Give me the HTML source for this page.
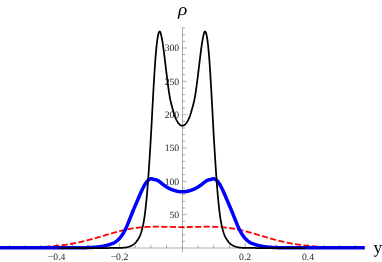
<!DOCTYPE html>
<html><head><meta charset="utf-8"><title>plot</title>
<style>
html,body{margin:0;padding:0;background:#fff;}
body{width:382px;height:262px;overflow:hidden;font-family:"Liberation Serif",serif;}
svg{display:block;will-change:transform;}
.t{font-family:"Liberation Serif",serif;fill:#1c1c1c;text-rendering:geometricPrecision;}
</style></head><body>
<svg width="382" height="262" viewBox="0 0 382 262">
<g class="t" font-size="9.7"><text x="56.62" y="259.9" text-anchor="middle">−0.4</text><text x="119.46" y="259.9" text-anchor="middle">−0.2</text><text x="245.14" y="259.9" text-anchor="middle">0.2</text><text x="307.98" y="259.9" text-anchor="middle">0.4</text><text x="179.2" y="217.97" text-anchor="end">50</text><text x="179.2" y="184.63" text-anchor="end">100</text><text x="179.2" y="151.30" text-anchor="end">150</text><text x="179.2" y="117.97" text-anchor="end">200</text><text x="179.2" y="84.63" text-anchor="end">250</text><text x="179.2" y="51.30" text-anchor="end">300</text></g>
<text class="t" transform="translate(178.0,15.4) scale(1.14,1)" font-style="italic" font-size="17" style="fill:#000">ρ</text>
<text class="t" x="373.6" y="252.85" font-size="17.2" style="fill:#000">y</text>
<path d="M0.00,247.62 L0.70,247.62 L1.41,247.62 L2.11,247.62 L2.82,247.62 L3.52,247.61 L4.22,247.61 L4.93,247.61 L5.63,247.60 L6.34,247.60 L7.04,247.60 L7.74,247.60 L8.45,247.59 L9.15,247.59 L9.86,247.58 L10.56,247.58 L11.26,247.58 L11.97,247.57 L12.67,247.57 L13.38,247.56 L14.08,247.56 L14.79,247.55 L15.49,247.54 L16.19,247.54 L16.90,247.53 L17.60,247.53 L18.31,247.52 L19.01,247.51 L19.71,247.50 L20.42,247.49 L21.12,247.48 L21.83,247.47 L22.53,247.46 L23.23,247.45 L23.94,247.44 L24.64,247.43 L25.35,247.42 L26.05,247.41 L26.75,247.39 L27.46,247.38 L28.16,247.37 L28.87,247.35 L29.57,247.33 L30.27,247.32 L30.98,247.30 L31.68,247.28 L32.39,247.26 L33.09,247.24 L33.79,247.22 L34.50,247.20 L35.20,247.18 L35.91,247.15 L36.61,247.13 L37.31,247.10 L38.02,247.08 L38.72,247.05 L39.43,247.02 L40.13,246.99 L40.84,246.96 L41.54,246.93 L42.24,246.89 L42.95,246.86 L43.65,246.82 L44.36,246.78 L45.06,246.74 L45.76,246.70 L46.47,246.66 L47.17,246.61 L47.88,246.57 L48.58,246.52 L49.28,246.47 L49.99,246.42 L50.69,246.37 L51.40,246.31 L52.10,246.25 L52.80,246.20 L53.51,246.14 L54.21,246.07 L54.92,246.01 L55.62,245.94 L56.32,245.87 L57.03,245.80 L57.73,245.73 L58.44,245.65 L59.14,245.58 L59.84,245.50 L60.55,245.41 L61.25,245.33 L61.96,245.24 L62.66,245.15 L63.36,245.06 L64.07,244.97 L64.77,244.87 L65.48,244.77 L66.18,244.67 L66.89,244.56 L67.59,244.46 L68.29,244.35 L69.00,244.23 L69.70,244.12 L70.41,244.00 L71.11,243.88 L71.81,243.76 L72.52,243.63 L73.22,243.50 L73.93,243.37 L74.63,243.24 L75.33,243.10 L76.04,242.96 L76.74,242.82 L77.45,242.67 L78.15,242.52 L78.85,242.37 L79.56,242.22 L80.26,242.06 L80.97,241.90 L81.67,241.74 L82.37,241.58 L83.08,241.41 L83.78,241.24 L84.49,241.07 L85.19,240.90 L85.89,240.72 L86.60,240.54 L87.30,240.36 L88.01,240.18 L88.71,239.99 L89.41,239.81 L90.12,239.62 L90.82,239.43 L91.53,239.23 L92.23,239.04 L92.94,238.84 L93.64,238.64 L94.34,238.44 L95.05,238.24 L95.75,238.04 L96.46,237.84 L97.16,237.63 L97.86,237.42 L98.57,237.22 L99.27,237.01 L99.98,236.80 L100.68,236.59 L101.38,236.38 L102.09,236.17 L102.79,235.96 L103.50,235.75 L104.20,235.54 L104.90,235.33 L105.61,235.12 L106.31,234.91 L107.02,234.70 L107.72,234.49 L108.42,234.28 L109.13,234.08 L109.83,233.87 L110.54,233.67 L111.24,233.46 L111.94,233.26 L112.65,233.06 L113.35,232.86 L114.06,232.66 L114.76,232.46 L115.46,232.27 L116.17,232.08 L116.87,231.89 L117.58,231.70 L118.28,231.52 L118.99,231.33 L119.69,231.15 L120.39,230.98 L121.10,230.80 L121.80,230.63 L122.51,230.46 L123.21,230.30 L123.91,230.14 L124.62,229.98 L125.32,229.82 L126.03,229.67 L126.73,229.52 L127.43,229.38 L128.14,229.24 L128.84,229.10 L129.55,228.97 L130.25,228.84 L130.95,228.71 L131.66,228.59 L132.36,228.47 L133.07,228.36 L133.77,228.25 L134.47,228.14 L135.18,228.04 L135.88,227.94 L136.59,227.85 L137.29,227.76 L137.99,227.68 L138.70,227.59 L139.40,227.52 L140.11,227.44 L140.81,227.37 L141.51,227.31 L142.22,227.25 L142.92,227.19 L143.63,227.13 L144.33,227.08 L145.04,227.03 L145.74,226.99 L146.44,226.95 L147.15,226.91 L147.85,226.88 L148.56,226.85 L149.26,226.82 L149.96,226.80 L150.67,226.78 L151.37,226.76 L152.08,226.74 L152.78,226.73 L153.48,226.72 L154.19,226.71 L154.89,226.71 L155.60,226.70 L156.30,226.70 L157.00,226.70 L157.71,226.70 L158.41,226.71 L159.12,226.71 L159.82,226.72 L160.52,226.73 L161.23,226.74 L161.93,226.75 L162.64,226.76 L163.34,226.77 L164.04,226.79 L164.75,226.80 L165.45,226.81 L166.16,226.83 L166.86,226.84 L167.56,226.86 L168.27,226.87 L168.97,226.89 L169.68,226.90 L170.38,226.92 L171.09,226.93 L171.79,226.95 L172.49,226.96 L173.20,226.97 L173.90,226.98 L174.61,227.00 L175.31,227.01 L176.01,227.02 L176.72,227.03 L177.42,227.03 L178.13,227.04 L178.83,227.05 L179.53,227.05 L180.24,227.06 L180.94,227.06 L181.65,227.06 L182.35,227.06 L183.05,227.06 L183.76,227.06 L184.46,227.06 L185.17,227.05 L185.87,227.05 L186.57,227.04 L187.28,227.03 L187.98,227.03 L188.69,227.02 L189.39,227.01 L190.09,227.00 L190.80,226.98 L191.50,226.97 L192.21,226.96 L192.91,226.95 L193.61,226.93 L194.32,226.92 L195.02,226.90 L195.73,226.89 L196.43,226.87 L197.14,226.86 L197.84,226.84 L198.54,226.83 L199.25,226.81 L199.95,226.80 L200.66,226.79 L201.36,226.77 L202.06,226.76 L202.77,226.75 L203.47,226.74 L204.18,226.73 L204.88,226.72 L205.58,226.71 L206.29,226.71 L206.99,226.70 L207.70,226.70 L208.40,226.70 L209.10,226.70 L209.81,226.71 L210.51,226.71 L211.22,226.72 L211.92,226.73 L212.62,226.74 L213.33,226.76 L214.03,226.78 L214.74,226.80 L215.44,226.82 L216.14,226.85 L216.85,226.88 L217.55,226.91 L218.26,226.95 L218.96,226.99 L219.66,227.03 L220.37,227.08 L221.07,227.13 L221.78,227.19 L222.48,227.25 L223.19,227.31 L223.89,227.37 L224.59,227.44 L225.30,227.52 L226.00,227.59 L226.71,227.68 L227.41,227.76 L228.11,227.85 L228.82,227.94 L229.52,228.04 L230.23,228.14 L230.93,228.25 L231.63,228.36 L232.34,228.47 L233.04,228.59 L233.75,228.71 L234.45,228.84 L235.15,228.97 L235.86,229.10 L236.56,229.24 L237.27,229.38 L237.97,229.52 L238.67,229.67 L239.38,229.82 L240.08,229.98 L240.79,230.14 L241.49,230.30 L242.19,230.46 L242.90,230.63 L243.60,230.80 L244.31,230.98 L245.01,231.15 L245.71,231.33 L246.42,231.52 L247.12,231.70 L247.83,231.89 L248.53,232.08 L249.24,232.27 L249.94,232.46 L250.64,232.66 L251.35,232.86 L252.05,233.06 L252.76,233.26 L253.46,233.46 L254.16,233.67 L254.87,233.87 L255.57,234.08 L256.28,234.28 L256.98,234.49 L257.68,234.70 L258.39,234.91 L259.09,235.12 L259.80,235.33 L260.50,235.54 L261.20,235.75 L261.91,235.96 L262.61,236.17 L263.32,236.38 L264.02,236.59 L264.72,236.80 L265.43,237.01 L266.13,237.22 L266.84,237.42 L267.54,237.63 L268.24,237.84 L268.95,238.04 L269.65,238.24 L270.36,238.44 L271.06,238.64 L271.76,238.84 L272.47,239.04 L273.17,239.23 L273.88,239.43 L274.58,239.62 L275.29,239.81 L275.99,239.99 L276.69,240.18 L277.40,240.36 L278.10,240.54 L278.81,240.72 L279.51,240.90 L280.21,241.07 L280.92,241.24 L281.62,241.41 L282.33,241.58 L283.03,241.74 L283.73,241.90 L284.44,242.06 L285.14,242.22 L285.85,242.37 L286.55,242.52 L287.25,242.67 L287.96,242.82 L288.66,242.96 L289.37,243.10 L290.07,243.24 L290.77,243.37 L291.48,243.50 L292.18,243.63 L292.89,243.76 L293.59,243.88 L294.29,244.00 L295.00,244.12 L295.70,244.23 L296.41,244.35 L297.11,244.46 L297.81,244.56 L298.52,244.67 L299.22,244.77 L299.93,244.87 L300.63,244.97 L301.34,245.06 L302.04,245.15 L302.74,245.24 L303.45,245.33 L304.15,245.41 L304.86,245.50 L305.56,245.58 L306.26,245.65 L306.97,245.73 L307.67,245.80 L308.38,245.87 L309.08,245.94 L309.78,246.01 L310.49,246.07 L311.19,246.14 L311.90,246.20 L312.60,246.25 L313.30,246.31 L314.01,246.37 L314.71,246.42 L315.42,246.47 L316.12,246.52 L316.82,246.57 L317.53,246.61 L318.23,246.66 L318.94,246.70 L319.64,246.74 L320.34,246.78 L321.05,246.82 L321.75,246.86 L322.46,246.89 L323.16,246.93 L323.86,246.96 L324.57,246.99 L325.27,247.02 L325.98,247.05 L326.68,247.08 L327.39,247.10 L328.09,247.13 L328.79,247.15 L329.50,247.18 L330.20,247.20 L330.91,247.22 L331.61,247.24 L332.31,247.26 L333.02,247.28 L333.72,247.30 L334.43,247.32 L335.13,247.33 L335.83,247.35 L336.54,247.37 L337.24,247.38 L337.95,247.39 L338.65,247.41 L339.35,247.42 L340.06,247.43 L340.76,247.44 L341.47,247.45 L342.17,247.46 L342.87,247.47 L343.58,247.48 L344.28,247.49 L344.99,247.50 L345.69,247.51 L346.39,247.52 L347.10,247.53 L347.80,247.53 L348.51,247.54 L349.21,247.54 L349.91,247.55 L350.62,247.56 L351.32,247.56 L352.03,247.57 L352.73,247.57 L353.44,247.58 L354.14,247.58 L354.84,247.58 L355.55,247.59 L356.25,247.59 L356.96,247.60 L357.66,247.60 L358.36,247.60 L359.07,247.60 L359.77,247.61 L360.48,247.61 L361.18,247.61 L361.88,247.62 L362.59,247.62 L363.29,247.62 L364.00,247.62 L364.70,247.62" fill="none" stroke="#ff0000" stroke-width="1.8" stroke-dasharray="6.05 2.435" stroke-dashoffset="6.155" stroke-linejoin="round"/>
<path d="M0.00,247.80 L0.51,247.80 L1.01,247.80 L1.52,247.80 L2.03,247.80 L2.53,247.80 L3.04,247.80 L3.55,247.80 L4.05,247.80 L4.56,247.80 L5.07,247.80 L5.57,247.80 L6.08,247.80 L6.59,247.80 L7.09,247.80 L7.60,247.80 L8.11,247.80 L8.61,247.80 L9.12,247.80 L9.63,247.80 L10.13,247.80 L10.64,247.80 L11.15,247.80 L11.65,247.80 L12.16,247.80 L12.67,247.80 L13.17,247.80 L13.68,247.80 L14.19,247.80 L14.69,247.80 L15.20,247.80 L15.71,247.80 L16.21,247.80 L16.72,247.80 L17.23,247.80 L17.73,247.80 L18.24,247.80 L18.75,247.80 L19.25,247.80 L19.76,247.80 L20.27,247.80 L20.77,247.80 L21.28,247.80 L21.79,247.80 L22.29,247.80 L22.80,247.80 L23.31,247.80 L23.81,247.80 L24.32,247.80 L24.83,247.80 L25.33,247.80 L25.84,247.80 L26.35,247.80 L26.85,247.80 L27.36,247.80 L27.87,247.80 L28.37,247.80 L28.88,247.80 L29.39,247.80 L29.89,247.80 L30.40,247.80 L30.91,247.80 L31.41,247.80 L31.92,247.80 L32.43,247.80 L32.93,247.80 L33.44,247.80 L33.95,247.80 L34.45,247.80 L34.96,247.80 L35.47,247.80 L35.97,247.80 L36.48,247.80 L36.99,247.80 L37.49,247.80 L38.00,247.80 L38.51,247.80 L39.02,247.80 L39.52,247.80 L40.03,247.80 L40.54,247.80 L41.04,247.80 L41.55,247.80 L42.06,247.80 L42.56,247.80 L43.07,247.80 L43.58,247.80 L44.08,247.80 L44.59,247.80 L45.10,247.80 L45.60,247.80 L46.11,247.80 L46.62,247.80 L47.12,247.80 L47.63,247.80 L48.14,247.80 L48.64,247.80 L49.15,247.80 L49.66,247.80 L50.16,247.80 L50.67,247.80 L51.18,247.80 L51.68,247.80 L52.19,247.80 L52.70,247.80 L53.20,247.80 L53.71,247.80 L54.22,247.80 L54.72,247.80 L55.23,247.80 L55.74,247.80 L56.24,247.80 L56.75,247.80 L57.26,247.80 L57.76,247.80 L58.27,247.80 L58.78,247.80 L59.28,247.80 L59.79,247.80 L60.30,247.80 L60.80,247.80 L61.31,247.80 L61.82,247.80 L62.32,247.80 L62.83,247.80 L63.34,247.80 L63.84,247.80 L64.35,247.80 L64.86,247.80 L65.36,247.80 L65.87,247.80 L66.38,247.79 L66.88,247.79 L67.39,247.79 L67.90,247.79 L68.40,247.79 L68.91,247.79 L69.42,247.79 L69.92,247.79 L70.43,247.79 L70.94,247.79 L71.44,247.79 L71.95,247.79 L72.46,247.78 L72.96,247.78 L73.47,247.78 L73.98,247.78 L74.48,247.78 L74.99,247.78 L75.50,247.77 L76.00,247.77 L76.51,247.77 L77.02,247.77 L77.52,247.76 L78.03,247.76 L78.54,247.76 L79.04,247.75 L79.55,247.75 L80.06,247.74 L80.56,247.74 L81.07,247.73 L81.58,247.73 L82.08,247.72 L82.59,247.71 L83.10,247.71 L83.60,247.70 L84.11,247.69 L84.62,247.68 L85.12,247.67 L85.63,247.66 L86.14,247.65 L86.64,247.64 L87.15,247.62 L87.66,247.61 L88.16,247.59 L88.67,247.58 L89.18,247.56 L89.68,247.54 L90.19,247.52 L90.70,247.50 L91.20,247.48 L91.71,247.45 L92.22,247.42 L92.72,247.39 L93.23,247.36 L93.74,247.33 L94.24,247.30 L94.75,247.26 L95.26,247.22 L95.76,247.18 L96.27,247.13 L96.78,247.08 L97.28,247.03 L97.79,246.98 L98.30,246.92 L98.80,246.86 L99.31,246.79 L99.82,246.73 L100.32,246.65 L100.83,246.58 L101.34,246.50 L101.84,246.42 L102.35,246.33 L102.86,246.24 L103.36,246.14 L103.87,246.04 L104.38,245.94 L104.88,245.83 L105.39,245.71 L105.90,245.59 L106.40,245.46 L106.91,245.33 L107.42,245.19 L107.92,245.04 L108.43,244.89 L108.94,244.73 L109.44,244.56 L109.95,244.38 L110.46,244.21 L110.96,244.04 L111.47,243.87 L111.98,243.69 L112.48,243.50 L112.99,243.30 L113.50,243.08 L114.01,242.84 L114.51,242.58 L115.02,242.28 L115.53,241.94 L116.03,241.57 L116.54,241.18 L117.05,240.77 L117.55,240.33 L118.06,239.87 L118.57,239.38 L119.07,238.86 L119.58,238.31 L120.09,237.72 L120.59,237.11 L121.10,236.45 L121.61,235.76 L122.11,235.02 L122.62,234.26 L123.13,233.46 L123.63,232.62 L124.14,231.74 L124.65,230.83 L125.15,229.89 L125.66,228.91 L126.17,227.83 L126.67,226.66 L127.18,225.42 L127.69,224.16 L128.19,222.90 L128.70,221.66 L129.21,220.42 L129.71,219.15 L130.22,217.86 L130.73,216.58 L131.23,215.29 L131.74,214.00 L132.25,212.73 L132.75,211.48 L133.26,210.26 L133.77,209.07 L134.27,207.90 L134.78,206.73 L135.29,205.57 L135.79,204.40 L136.30,203.21 L136.81,202.01 L137.31,200.83 L137.82,199.65 L138.33,198.47 L138.83,197.29 L139.34,196.10 L139.85,194.90 L140.35,193.72 L140.86,192.57 L141.37,191.43 L141.87,190.33 L142.38,189.25 L142.89,188.21 L143.39,187.21 L143.90,186.25 L144.41,185.34 L144.91,184.47 L145.42,183.66 L145.93,182.91 L146.43,182.21 L146.94,181.58 L147.45,181.00 L147.95,180.49 L148.46,180.05 L148.97,179.67 L149.47,179.36 L149.98,179.11 L150.49,178.94 L150.99,178.83 L151.50,178.80 L151.89,178.82 L152.28,178.88 L152.67,178.98 L153.06,179.14 L153.45,179.29 L153.84,179.42 L154.23,179.51 L154.62,179.59 L155.01,179.67 L155.41,179.74 L155.80,179.81 L156.19,179.91 L156.58,180.03 L156.97,180.17 L157.36,180.35 L157.75,180.54 L158.14,180.76 L158.53,181.01 L158.92,181.26 L159.31,181.54 L159.70,181.82 L160.09,182.12 L160.48,182.42 L160.87,182.73 L161.26,183.05 L161.65,183.36 L162.04,183.68 L162.43,183.99 L162.82,184.30 L163.22,184.60 L163.61,184.90 L164.00,185.20 L164.39,185.49 L164.78,185.78 L165.17,186.06 L165.56,186.33 L165.95,186.59 L166.34,186.85 L166.73,187.10 L167.12,187.33 L167.51,187.56 L167.90,187.78 L168.29,187.99 L168.68,188.20 L169.07,188.39 L169.46,188.58 L169.85,188.76 L170.24,188.94 L170.63,189.11 L171.03,189.27 L171.42,189.43 L171.81,189.58 L172.20,189.73 L172.59,189.88 L172.98,190.02 L173.37,190.16 L173.76,190.29 L174.15,190.42 L174.54,190.54 L174.93,190.66 L175.32,190.77 L175.71,190.88 L176.10,190.98 L176.49,191.08 L176.88,191.17 L177.27,191.26 L177.66,191.34 L178.05,191.42 L178.44,191.49 L178.84,191.55 L179.23,191.61 L179.62,191.66 L180.01,191.71 L180.40,191.74 L180.79,191.78 L181.18,191.80 L181.57,191.82 L181.96,191.83 L182.35,191.83 L182.74,191.83 L183.13,191.82 L183.52,191.80 L183.91,191.78 L184.30,191.74 L184.69,191.71 L185.08,191.66 L185.47,191.61 L185.86,191.55 L186.26,191.49 L186.65,191.42 L187.04,191.34 L187.43,191.26 L187.82,191.17 L188.21,191.08 L188.60,190.98 L188.99,190.88 L189.38,190.77 L189.77,190.66 L190.16,190.54 L190.55,190.42 L190.94,190.29 L191.33,190.16 L191.72,190.02 L192.11,189.88 L192.50,189.73 L192.89,189.58 L193.28,189.43 L193.67,189.27 L194.07,189.11 L194.46,188.94 L194.85,188.76 L195.24,188.58 L195.63,188.39 L196.02,188.20 L196.41,187.99 L196.80,187.78 L197.19,187.56 L197.58,187.33 L197.97,187.10 L198.36,186.85 L198.75,186.59 L199.14,186.33 L199.53,186.06 L199.92,185.78 L200.31,185.49 L200.70,185.20 L201.09,184.90 L201.48,184.60 L201.88,184.30 L202.27,183.99 L202.66,183.68 L203.05,183.36 L203.44,183.05 L203.83,182.73 L204.22,182.42 L204.61,182.12 L205.00,181.82 L205.39,181.54 L205.78,181.26 L206.17,181.01 L206.56,180.76 L206.95,180.54 L207.34,180.35 L207.73,180.17 L208.12,180.03 L208.51,179.91 L208.90,179.81 L209.29,179.74 L209.69,179.67 L210.08,179.59 L210.47,179.51 L210.86,179.42 L211.25,179.29 L211.64,179.14 L212.03,178.98 L212.42,178.88 L212.81,178.82 L213.20,178.80 L213.71,178.83 L214.21,178.94 L214.72,179.11 L215.23,179.36 L215.73,179.67 L216.24,180.05 L216.75,180.49 L217.25,181.00 L217.76,181.58 L218.27,182.21 L218.77,182.91 L219.28,183.66 L219.79,184.47 L220.29,185.34 L220.80,186.25 L221.31,187.21 L221.81,188.21 L222.32,189.25 L222.83,190.33 L223.33,191.43 L223.84,192.57 L224.35,193.72 L224.85,194.90 L225.36,196.10 L225.87,197.29 L226.37,198.47 L226.88,199.65 L227.39,200.83 L227.89,202.01 L228.40,203.21 L228.91,204.40 L229.41,205.57 L229.92,206.73 L230.43,207.90 L230.93,209.07 L231.44,210.26 L231.95,211.48 L232.45,212.73 L232.96,214.00 L233.47,215.29 L233.97,216.58 L234.48,217.86 L234.99,219.15 L235.49,220.42 L236.00,221.66 L236.51,222.90 L237.01,224.16 L237.52,225.42 L238.03,226.66 L238.53,227.83 L239.04,228.91 L239.55,229.89 L240.05,230.83 L240.56,231.74 L241.07,232.62 L241.57,233.46 L242.08,234.26 L242.59,235.02 L243.09,235.76 L243.60,236.45 L244.11,237.11 L244.61,237.72 L245.12,238.31 L245.63,238.86 L246.13,239.38 L246.64,239.87 L247.15,240.33 L247.65,240.77 L248.16,241.18 L248.67,241.57 L249.17,241.94 L249.68,242.28 L250.19,242.58 L250.69,242.84 L251.20,243.08 L251.71,243.30 L252.22,243.50 L252.72,243.69 L253.23,243.87 L253.74,244.04 L254.24,244.21 L254.75,244.38 L255.26,244.56 L255.76,244.73 L256.27,244.89 L256.78,245.04 L257.28,245.19 L257.79,245.33 L258.30,245.46 L258.80,245.59 L259.31,245.71 L259.82,245.83 L260.32,245.94 L260.83,246.04 L261.34,246.14 L261.84,246.24 L262.35,246.33 L262.86,246.42 L263.36,246.50 L263.87,246.58 L264.38,246.65 L264.88,246.73 L265.39,246.79 L265.90,246.86 L266.40,246.92 L266.91,246.98 L267.42,247.03 L267.92,247.08 L268.43,247.13 L268.94,247.18 L269.44,247.22 L269.95,247.26 L270.46,247.30 L270.96,247.33 L271.47,247.36 L271.98,247.39 L272.48,247.42 L272.99,247.45 L273.50,247.48 L274.00,247.50 L274.51,247.52 L275.02,247.54 L275.52,247.56 L276.03,247.58 L276.54,247.59 L277.04,247.61 L277.55,247.62 L278.06,247.64 L278.56,247.65 L279.07,247.66 L279.58,247.67 L280.08,247.68 L280.59,247.69 L281.10,247.70 L281.60,247.71 L282.11,247.71 L282.62,247.72 L283.12,247.73 L283.63,247.73 L284.14,247.74 L284.64,247.74 L285.15,247.75 L285.66,247.75 L286.16,247.76 L286.67,247.76 L287.18,247.76 L287.68,247.77 L288.19,247.77 L288.70,247.77 L289.20,247.77 L289.71,247.78 L290.22,247.78 L290.72,247.78 L291.23,247.78 L291.74,247.78 L292.24,247.78 L292.75,247.79 L293.26,247.79 L293.76,247.79 L294.27,247.79 L294.78,247.79 L295.28,247.79 L295.79,247.79 L296.30,247.79 L296.80,247.79 L297.31,247.79 L297.82,247.79 L298.32,247.79 L298.83,247.80 L299.34,247.80 L299.84,247.80 L300.35,247.80 L300.86,247.80 L301.36,247.80 L301.87,247.80 L302.38,247.80 L302.88,247.80 L303.39,247.80 L303.90,247.80 L304.40,247.80 L304.91,247.80 L305.42,247.80 L305.92,247.80 L306.43,247.80 L306.94,247.80 L307.44,247.80 L307.95,247.80 L308.46,247.80 L308.96,247.80 L309.47,247.80 L309.98,247.80 L310.48,247.80 L310.99,247.80 L311.50,247.80 L312.00,247.80 L312.51,247.80 L313.02,247.80 L313.52,247.80 L314.03,247.80 L314.54,247.80 L315.04,247.80 L315.55,247.80 L316.06,247.80 L316.56,247.80 L317.07,247.80 L317.58,247.80 L318.08,247.80 L318.59,247.80 L319.10,247.80 L319.60,247.80 L320.11,247.80 L320.62,247.80 L321.12,247.80 L321.63,247.80 L322.14,247.80 L322.64,247.80 L323.15,247.80 L323.66,247.80 L324.16,247.80 L324.67,247.80 L325.18,247.80 L325.68,247.80 L326.19,247.80 L326.70,247.80 L327.21,247.80 L327.71,247.80 L328.22,247.80 L328.73,247.80 L329.23,247.80 L329.74,247.80 L330.25,247.80 L330.75,247.80 L331.26,247.80 L331.77,247.80 L332.27,247.80 L332.78,247.80 L333.29,247.80 L333.79,247.80 L334.30,247.80 L334.81,247.80 L335.31,247.80 L335.82,247.80 L336.33,247.80 L336.83,247.80 L337.34,247.80 L337.85,247.80 L338.35,247.80 L338.86,247.80 L339.37,247.80 L339.87,247.80 L340.38,247.80 L340.89,247.80 L341.39,247.80 L341.90,247.80 L342.41,247.80 L342.91,247.80 L343.42,247.80 L343.93,247.80 L344.43,247.80 L344.94,247.80 L345.45,247.80 L345.95,247.80 L346.46,247.80 L346.97,247.80 L347.47,247.80 L347.98,247.80 L348.49,247.80 L348.99,247.80 L349.50,247.80 L350.01,247.80 L350.51,247.80 L351.02,247.80 L351.53,247.80 L352.03,247.80 L352.54,247.80 L353.05,247.80 L353.55,247.80 L354.06,247.80 L354.57,247.80 L355.07,247.80 L355.58,247.80 L356.09,247.80 L356.59,247.80 L357.10,247.80 L357.61,247.80 L358.11,247.80 L358.62,247.80 L359.13,247.80 L359.63,247.80 L360.14,247.80 L360.65,247.80 L361.15,247.80 L361.66,247.80 L362.17,247.80 L362.67,247.80 L363.18,247.80 L363.69,247.80 L364.19,247.80 L364.70,247.80" fill="none" stroke="#0000ff" stroke-width="3.5" stroke-linejoin="round"/>
<path d="M59.06,248.00 L59.44,248.00 L59.82,248.00 L60.20,248.00 L60.58,248.00 L60.96,248.00 L61.35,248.00 L61.73,248.00 L62.11,248.00 L62.49,248.00 L62.87,248.00 L63.25,248.00 L63.63,248.00 L64.01,248.00 L64.39,248.00 L64.77,248.00 L65.16,248.00 L65.54,248.00 L65.92,248.00 L66.30,248.00 L66.68,248.00 L67.06,248.00 L67.44,248.00 L67.82,248.00 L68.20,248.00 L68.58,248.00 L68.97,248.00 L69.35,248.00 L69.73,248.00 L70.11,248.00 L70.49,248.00 L70.87,248.00 L71.25,248.00 L71.63,248.00 L72.01,248.00 L72.39,248.00 L72.78,248.00 L73.16,248.00 L73.54,248.00 L73.92,248.00 L74.30,248.00 L74.68,248.00 L75.06,248.00 L75.44,248.00 L75.82,248.00 L76.21,248.00 L76.59,248.00 L76.97,248.00 L77.35,248.00 L77.73,248.00 L78.11,248.00 L78.49,248.00 L78.87,248.00 L79.25,248.00 L79.63,248.00 L80.02,248.00 L80.40,248.00 L80.78,248.00 L81.16,248.00 L81.54,248.00 L81.92,248.00 L82.30,248.00 L82.68,248.00 L83.06,248.00 L83.44,248.00 L83.83,248.00 L84.21,248.00 L84.59,248.00 L84.97,248.00 L85.35,248.00 L85.73,248.00 L86.11,248.00 L86.49,248.00 L86.87,248.00 L87.26,248.00 L87.64,248.00 L88.02,248.00 L88.40,248.00 L88.78,248.00 L89.16,248.00 L89.54,248.00 L89.92,248.00 L90.30,248.00 L90.68,248.00 L91.07,248.00 L91.45,248.00 L91.83,248.00 L92.21,248.00 L92.59,248.00 L92.97,248.00 L93.35,248.00 L93.73,248.00 L94.11,248.00 L94.49,248.00 L94.88,248.00 L95.26,248.00 L95.64,248.00 L96.02,248.00 L96.40,248.00 L96.78,248.00 L97.16,248.00 L97.54,248.00 L97.92,248.00 L98.30,248.00 L98.69,248.00 L99.07,248.00 L99.45,248.00 L99.83,248.00 L100.21,248.00 L100.59,248.00 L100.97,248.00 L101.35,248.00 L101.73,248.00 L102.12,248.00 L102.50,248.00 L102.88,248.00 L103.26,248.00 L103.64,248.00 L104.02,248.00 L104.40,248.00 L104.78,248.00 L105.16,248.00 L105.54,248.00 L105.93,248.00 L106.31,248.00 L106.69,248.00 L107.07,248.00 L107.45,248.00 L107.83,248.00 L108.21,248.00 L108.59,248.00 L108.97,248.00 L109.35,247.99 L109.74,247.99 L110.12,247.99 L110.50,247.99 L110.88,247.99 L111.26,247.99 L111.64,247.99 L112.02,247.99 L112.40,247.99 L112.78,247.98 L113.16,247.98 L113.55,247.98 L113.93,247.98 L114.31,247.98 L114.69,247.97 L115.07,247.97 L115.45,247.97 L115.83,247.96 L116.21,247.96 L116.59,247.95 L116.98,247.95 L117.36,247.94 L117.74,247.94 L118.12,247.93 L118.50,247.92 L118.88,247.91 L119.26,247.90 L119.64,247.89 L120.02,247.88 L120.40,247.87 L120.79,247.86 L121.17,247.84 L121.55,247.82 L121.93,247.81 L122.31,247.78 L122.69,247.76 L123.07,247.74 L123.45,247.71 L123.83,247.68 L124.21,247.64 L124.60,247.60 L124.98,247.56 L125.36,247.51 L125.74,247.46 L126.12,247.40 L126.50,247.34 L126.88,247.26 L127.26,247.18 L127.64,247.09 L128.02,247.00 L128.41,246.89 L128.79,246.77 L129.17,246.65 L129.55,246.51 L129.93,246.37 L130.31,246.21 L130.69,246.05 L131.07,245.88 L131.45,245.70 L131.84,245.50 L132.22,245.29 L132.60,245.06 L132.98,244.82 L133.36,244.56 L133.74,244.28 L134.12,243.97 L134.50,243.64 L134.88,243.29 L135.26,242.92 L135.65,242.52 L136.03,242.09 L136.41,241.63 L136.79,241.14 L137.17,240.62 L137.55,240.06 L137.93,239.48 L138.31,238.87 L138.69,238.23 L139.07,237.54 L139.46,236.79 L139.84,235.95 L140.22,235.05 L140.60,234.07 L140.98,233.01 L141.36,231.84 L141.74,230.56 L142.12,229.14 L142.50,227.60 L142.88,225.95 L143.27,224.16 L143.65,222.20 L144.03,220.01 L144.41,217.56 L144.79,214.81 L145.17,211.83 L145.55,208.62 L145.93,205.17 L146.31,201.47 L146.70,197.49 L147.08,193.21 L147.46,188.61 L147.84,183.71 L148.22,178.56 L148.60,173.18 L148.98,167.59 L149.36,161.81 L149.74,155.84 L150.12,149.71 L150.51,143.43 L150.89,136.98 L151.27,130.19 L151.65,123.17 L152.03,116.01 L152.41,108.81 L152.79,101.69 L153.17,94.73 L153.55,88.00 L153.93,81.50 L154.32,75.18 L154.70,69.15 L155.08,63.51 L155.46,58.30 L155.84,53.59 L156.22,49.36 L156.60,45.63 L156.98,42.35 L157.36,39.49 L157.74,37.06 L158.13,35.06 L158.51,33.50 L158.89,32.39 L159.27,31.72 L159.65,31.50 L159.81,31.54 L159.98,31.67 L160.14,31.87 L160.30,32.15 L160.47,32.51 L160.63,32.95 L160.79,33.49 L160.96,34.12 L161.12,34.83 L161.28,35.60 L161.45,36.40 L161.61,37.20 L161.77,38.01 L161.94,38.85 L162.10,39.72 L162.26,40.64 L162.43,41.60 L162.59,42.60 L162.75,43.65 L162.92,44.73 L163.08,45.85 L163.24,47.00 L163.41,48.18 L163.57,49.39 L163.73,50.63 L163.90,51.88 L164.06,53.16 L164.22,54.46 L164.39,55.78 L164.55,57.11 L164.71,58.45 L164.88,59.80 L165.04,61.16 L165.20,62.52 L165.37,63.89 L165.53,65.26 L165.69,66.63 L165.86,68.00 L166.02,69.37 L166.18,70.73 L166.35,72.09 L166.51,73.43 L166.67,74.77 L166.84,76.09 L167.00,77.40 L167.16,78.70 L167.33,79.98 L167.49,81.25 L167.65,82.49 L167.82,83.72 L167.98,84.94 L168.14,86.14 L168.31,87.32 L168.47,88.49 L168.63,89.65 L168.80,90.78 L168.96,91.90 L169.12,92.99 L169.29,94.04 L169.45,95.07 L169.61,96.05 L169.78,96.99 L169.94,97.89 L170.10,98.75 L170.27,99.57 L170.43,100.35 L170.59,101.10 L170.76,101.82 L170.92,102.51 L171.08,103.18 L171.24,103.83 L171.41,104.47 L171.57,105.09 L171.73,105.69 L171.90,106.29 L172.06,106.89 L172.22,107.47 L172.39,108.06 L172.55,108.63 L172.71,109.21 L172.88,109.78 L173.04,110.35 L173.20,110.92 L173.37,111.48 L173.53,112.04 L173.69,112.60 L173.86,113.14 L174.02,113.68 L174.18,114.21 L174.35,114.72 L174.51,115.22 L174.67,115.71 L174.84,116.17 L175.00,116.62 L175.16,117.05 L175.33,117.46 L175.49,117.85 L175.65,118.23 L175.82,118.60 L175.98,118.95 L176.14,119.29 L176.31,119.61 L176.47,119.93 L176.63,120.24 L176.80,120.53 L176.96,120.82 L177.12,121.10 L177.29,121.38 L177.45,121.65 L177.61,121.91 L177.78,122.17 L177.94,122.42 L178.10,122.66 L178.27,122.90 L178.43,123.12 L178.59,123.34 L178.76,123.55 L178.92,123.75 L179.08,123.94 L179.25,124.12 L179.41,124.29 L179.57,124.45 L179.74,124.59 L179.90,124.73 L180.06,124.86 L180.23,124.98 L180.39,125.09 L180.55,125.19 L180.72,125.28 L180.88,125.36 L181.04,125.43 L181.21,125.50 L181.37,125.55 L181.53,125.60 L181.70,125.63 L181.86,125.66 L182.02,125.68 L182.19,125.70 L182.35,125.70 L182.51,125.70 L182.68,125.68 L182.84,125.66 L183.00,125.63 L183.17,125.60 L183.33,125.55 L183.49,125.50 L183.66,125.43 L183.82,125.36 L183.98,125.28 L184.15,125.19 L184.31,125.09 L184.47,124.98 L184.64,124.86 L184.80,124.73 L184.96,124.59 L185.13,124.45 L185.29,124.29 L185.45,124.12 L185.62,123.94 L185.78,123.75 L185.94,123.55 L186.11,123.34 L186.27,123.12 L186.43,122.90 L186.60,122.66 L186.76,122.42 L186.92,122.17 L187.09,121.91 L187.25,121.65 L187.41,121.38 L187.58,121.10 L187.74,120.82 L187.90,120.53 L188.07,120.24 L188.23,119.93 L188.39,119.61 L188.56,119.29 L188.72,118.95 L188.88,118.60 L189.05,118.23 L189.21,117.85 L189.37,117.46 L189.54,117.05 L189.70,116.62 L189.86,116.17 L190.03,115.71 L190.19,115.22 L190.35,114.72 L190.52,114.21 L190.68,113.68 L190.84,113.14 L191.01,112.60 L191.17,112.04 L191.33,111.48 L191.50,110.92 L191.66,110.35 L191.82,109.78 L191.99,109.21 L192.15,108.63 L192.31,108.06 L192.48,107.47 L192.64,106.89 L192.80,106.29 L192.97,105.69 L193.13,105.09 L193.29,104.47 L193.46,103.83 L193.62,103.18 L193.78,102.51 L193.94,101.82 L194.11,101.10 L194.27,100.35 L194.43,99.57 L194.60,98.75 L194.76,97.89 L194.92,96.99 L195.09,96.05 L195.25,95.07 L195.41,94.04 L195.58,92.99 L195.74,91.90 L195.90,90.78 L196.07,89.65 L196.23,88.49 L196.39,87.32 L196.56,86.14 L196.72,84.94 L196.88,83.72 L197.05,82.49 L197.21,81.25 L197.37,79.98 L197.54,78.70 L197.70,77.40 L197.86,76.09 L198.03,74.77 L198.19,73.43 L198.35,72.09 L198.52,70.73 L198.68,69.37 L198.84,68.00 L199.01,66.63 L199.17,65.26 L199.33,63.89 L199.50,62.52 L199.66,61.16 L199.82,59.80 L199.99,58.45 L200.15,57.11 L200.31,55.78 L200.48,54.46 L200.64,53.16 L200.80,51.88 L200.97,50.63 L201.13,49.39 L201.29,48.18 L201.46,47.00 L201.62,45.85 L201.78,44.73 L201.95,43.65 L202.11,42.60 L202.27,41.60 L202.44,40.64 L202.60,39.72 L202.76,38.85 L202.93,38.01 L203.09,37.20 L203.25,36.40 L203.42,35.60 L203.58,34.83 L203.74,34.12 L203.91,33.49 L204.07,32.95 L204.23,32.51 L204.40,32.15 L204.56,31.87 L204.72,31.67 L204.89,31.54 L205.05,31.50 L205.43,31.72 L205.81,32.39 L206.19,33.50 L206.57,35.06 L206.96,37.06 L207.34,39.49 L207.72,42.35 L208.10,45.63 L208.48,49.36 L208.86,53.59 L209.24,58.30 L209.62,63.51 L210.00,69.15 L210.38,75.18 L210.77,81.50 L211.15,88.00 L211.53,94.73 L211.91,101.69 L212.29,108.81 L212.67,116.01 L213.05,123.17 L213.43,130.19 L213.81,136.98 L214.19,143.43 L214.58,149.71 L214.96,155.84 L215.34,161.81 L215.72,167.59 L216.10,173.18 L216.48,178.56 L216.86,183.71 L217.24,188.61 L217.62,193.21 L218.00,197.49 L218.39,201.47 L218.77,205.17 L219.15,208.62 L219.53,211.83 L219.91,214.81 L220.29,217.56 L220.67,220.01 L221.05,222.20 L221.43,224.16 L221.82,225.95 L222.20,227.60 L222.58,229.14 L222.96,230.56 L223.34,231.84 L223.72,233.01 L224.10,234.07 L224.48,235.05 L224.86,235.95 L225.24,236.79 L225.63,237.54 L226.01,238.23 L226.39,238.87 L226.77,239.48 L227.15,240.06 L227.53,240.62 L227.91,241.14 L228.29,241.63 L228.67,242.09 L229.05,242.52 L229.44,242.92 L229.82,243.29 L230.20,243.64 L230.58,243.97 L230.96,244.28 L231.34,244.56 L231.72,244.82 L232.10,245.06 L232.48,245.29 L232.86,245.50 L233.25,245.70 L233.63,245.88 L234.01,246.05 L234.39,246.21 L234.77,246.37 L235.15,246.51 L235.53,246.65 L235.91,246.77 L236.29,246.89 L236.68,247.00 L237.06,247.09 L237.44,247.18 L237.82,247.26 L238.20,247.34 L238.58,247.40 L238.96,247.46 L239.34,247.51 L239.72,247.56 L240.10,247.60 L240.49,247.64 L240.87,247.68 L241.25,247.71 L241.63,247.74 L242.01,247.76 L242.39,247.78 L242.77,247.81 L243.15,247.82 L243.53,247.84 L243.91,247.86 L244.30,247.87 L244.68,247.88 L245.06,247.89 L245.44,247.90 L245.82,247.91 L246.20,247.92 L246.58,247.93 L246.96,247.94 L247.34,247.94 L247.72,247.95 L248.11,247.95 L248.49,247.96 L248.87,247.96 L249.25,247.97 L249.63,247.97 L250.01,247.97 L250.39,247.98 L250.77,247.98 L251.15,247.98 L251.54,247.98 L251.92,247.98 L252.30,247.99 L252.68,247.99 L253.06,247.99 L253.44,247.99 L253.82,247.99 L254.20,247.99 L254.58,247.99 L254.96,247.99 L255.35,247.99 L255.73,248.00 L256.11,248.00 L256.49,248.00 L256.87,248.00 L257.25,248.00 L257.63,248.00 L258.01,248.00 L258.39,248.00 L258.77,248.00 L259.16,248.00 L259.54,248.00 L259.92,248.00 L260.30,248.00 L260.68,248.00 L261.06,248.00 L261.44,248.00 L261.82,248.00 L262.20,248.00 L262.58,248.00 L262.97,248.00 L263.35,248.00 L263.73,248.00 L264.11,248.00 L264.49,248.00 L264.87,248.00 L265.25,248.00 L265.63,248.00 L266.01,248.00 L266.40,248.00 L266.78,248.00 L267.16,248.00 L267.54,248.00 L267.92,248.00 L268.30,248.00 L268.68,248.00 L269.06,248.00 L269.44,248.00 L269.82,248.00 L270.21,248.00 L270.59,248.00 L270.97,248.00 L271.35,248.00 L271.73,248.00 L272.11,248.00 L272.49,248.00 L272.87,248.00 L273.25,248.00 L273.63,248.00 L274.02,248.00 L274.40,248.00 L274.78,248.00 L275.16,248.00 L275.54,248.00 L275.92,248.00 L276.30,248.00 L276.68,248.00 L277.06,248.00 L277.44,248.00 L277.83,248.00 L278.21,248.00 L278.59,248.00 L278.97,248.00 L279.35,248.00 L279.73,248.00 L280.11,248.00 L280.49,248.00 L280.87,248.00 L281.26,248.00 L281.64,248.00 L282.02,248.00 L282.40,248.00 L282.78,248.00 L283.16,248.00 L283.54,248.00 L283.92,248.00 L284.30,248.00 L284.68,248.00 L285.07,248.00 L285.45,248.00 L285.83,248.00 L286.21,248.00 L286.59,248.00 L286.97,248.00 L287.35,248.00 L287.73,248.00 L288.11,248.00 L288.49,248.00 L288.88,248.00 L289.26,248.00 L289.64,248.00 L290.02,248.00 L290.40,248.00 L290.78,248.00 L291.16,248.00 L291.54,248.00 L291.92,248.00 L292.31,248.00 L292.69,248.00 L293.07,248.00 L293.45,248.00 L293.83,248.00 L294.21,248.00 L294.59,248.00 L294.97,248.00 L295.35,248.00 L295.73,248.00 L296.12,248.00 L296.50,248.00 L296.88,248.00 L297.26,248.00 L297.64,248.00 L298.02,248.00 L298.40,248.00 L298.78,248.00 L299.16,248.00 L299.54,248.00 L299.93,248.00 L300.31,248.00 L300.69,248.00 L301.07,248.00 L301.45,248.00 L301.83,248.00 L302.21,248.00 L302.59,248.00 L302.97,248.00 L303.35,248.00 L303.74,248.00 L304.12,248.00 L304.50,248.00 L304.88,248.00 L305.26,248.00 L305.64,248.00 L306.02,248.00" fill="none" stroke="#000" stroke-width="1.75" stroke-linejoin="round"/>
<g stroke="#000" stroke-width="0.32" fill="none"><line x1="0" y1="248.0" x2="364.8" y2="248.0"/><line x1="182.5" y1="27.4" x2="182.5" y2="252.4"/><line x1="9.49" y1="248.0" x2="9.49" y2="244.8"/><line x1="25.20" y1="248.0" x2="25.20" y2="244.8"/><line x1="40.91" y1="248.0" x2="40.91" y2="244.8"/><line x1="56.62" y1="248.0" x2="56.62" y2="243.3"/><line x1="72.33" y1="248.0" x2="72.33" y2="244.8"/><line x1="88.04" y1="248.0" x2="88.04" y2="244.8"/><line x1="103.75" y1="248.0" x2="103.75" y2="244.8"/><line x1="119.46" y1="248.0" x2="119.46" y2="243.3"/><line x1="135.17" y1="248.0" x2="135.17" y2="244.8"/><line x1="150.88" y1="248.0" x2="150.88" y2="244.8"/><line x1="166.59" y1="248.0" x2="166.59" y2="244.8"/><line x1="198.01" y1="248.0" x2="198.01" y2="244.8"/><line x1="213.72" y1="248.0" x2="213.72" y2="244.8"/><line x1="229.43" y1="248.0" x2="229.43" y2="244.8"/><line x1="245.14" y1="248.0" x2="245.14" y2="243.3"/><line x1="260.85" y1="248.0" x2="260.85" y2="244.8"/><line x1="276.56" y1="248.0" x2="276.56" y2="244.8"/><line x1="292.27" y1="248.0" x2="292.27" y2="244.8"/><line x1="307.98" y1="248.0" x2="307.98" y2="243.3"/><line x1="323.69" y1="248.0" x2="323.69" y2="244.8"/><line x1="339.40" y1="248.0" x2="339.40" y2="244.8"/><line x1="355.11" y1="248.0" x2="355.11" y2="244.8"/><line x1="182.5" y1="241.33" x2="185.2" y2="241.33"/><line x1="182.5" y1="234.67" x2="185.2" y2="234.67"/><line x1="182.5" y1="228.00" x2="185.2" y2="228.00"/><line x1="182.5" y1="221.33" x2="185.2" y2="221.33"/><line x1="182.5" y1="214.67" x2="186.7" y2="214.67"/><line x1="182.5" y1="208.00" x2="185.2" y2="208.00"/><line x1="182.5" y1="201.33" x2="185.2" y2="201.33"/><line x1="182.5" y1="194.67" x2="185.2" y2="194.67"/><line x1="182.5" y1="188.00" x2="185.2" y2="188.00"/><line x1="182.5" y1="181.33" x2="186.7" y2="181.33"/><line x1="182.5" y1="174.67" x2="185.2" y2="174.67"/><line x1="182.5" y1="168.00" x2="185.2" y2="168.00"/><line x1="182.5" y1="161.33" x2="185.2" y2="161.33"/><line x1="182.5" y1="154.67" x2="185.2" y2="154.67"/><line x1="182.5" y1="148.00" x2="186.7" y2="148.00"/><line x1="182.5" y1="141.33" x2="185.2" y2="141.33"/><line x1="182.5" y1="134.67" x2="185.2" y2="134.67"/><line x1="182.5" y1="128.00" x2="185.2" y2="128.00"/><line x1="182.5" y1="121.33" x2="185.2" y2="121.33"/><line x1="182.5" y1="114.67" x2="186.7" y2="114.67"/><line x1="182.5" y1="108.00" x2="185.2" y2="108.00"/><line x1="182.5" y1="101.33" x2="185.2" y2="101.33"/><line x1="182.5" y1="94.67" x2="185.2" y2="94.67"/><line x1="182.5" y1="88.00" x2="185.2" y2="88.00"/><line x1="182.5" y1="81.33" x2="186.7" y2="81.33"/><line x1="182.5" y1="74.67" x2="185.2" y2="74.67"/><line x1="182.5" y1="68.00" x2="185.2" y2="68.00"/><line x1="182.5" y1="61.33" x2="185.2" y2="61.33"/><line x1="182.5" y1="54.67" x2="185.2" y2="54.67"/><line x1="182.5" y1="48.00" x2="186.7" y2="48.00"/><line x1="182.5" y1="41.33" x2="185.2" y2="41.33"/><line x1="182.5" y1="34.67" x2="185.2" y2="34.67"/><line x1="182.5" y1="28.00" x2="185.2" y2="28.00"/></g>
</svg>
</body></html>
